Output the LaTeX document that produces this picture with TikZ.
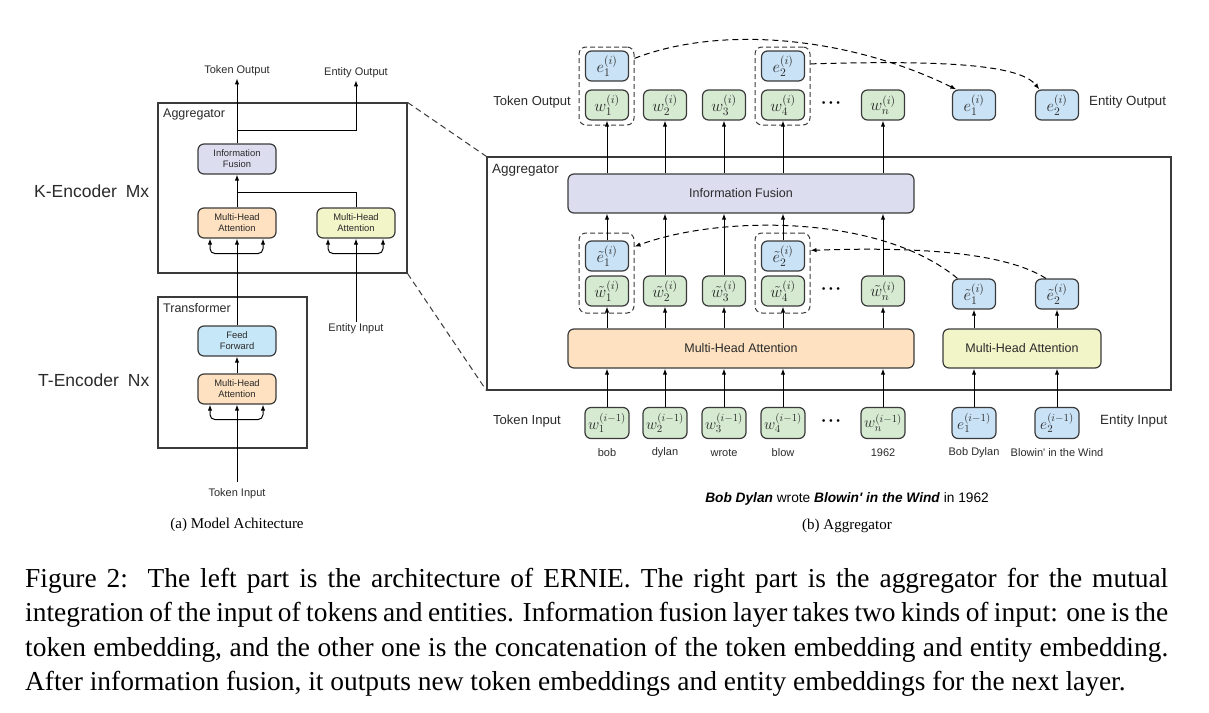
\RequirePackage{fix-cm}
\documentclass[tikz,border=0pt]{standalone}
\usepackage[no-math]{fontspec}
\setmainfont{Liberation Serif}
\newfontfamily\hv{Liberation Sans}
\usetikzlibrary{arrows.meta,calc}
\definecolor{cgreen}{HTML}{D5EAD0}
\definecolor{cblue}{HTML}{C9E2F5}
\definecolor{clav}{HTML}{DCDEF0}
\definecolor{corange}{HTML}{FDE1C0}
\definecolor{cyellow}{HTML}{F2F5C8}
\definecolor{cff}{HTML}{C6E7F7}
\definecolor{cline}{HTML}{3A3A3A}
\definecolor{ctext}{HTML}{2A2A2A}
\begin{document}
\begin{tikzpicture}[x=1pt,y=-1pt,
  box/.style={draw=cline, line width=1.2pt, rounded corners=6pt, inner sep=0pt, text=ctext, align=center},
  tok/.style={box, fill=cgreen, minimum width=43pt, minimum height=30pt, font=\fontsize{16.5}{19}\selectfont},
  ent/.style={box, fill=cblue, minimum width=43pt, minimum height=30pt, font=\fontsize{16.5}{19}\selectfont},
  boxL/.style={box, minimum width=78pt, minimum height=30pt, font=\hv\fontsize{9.4}{11}\selectfont},
  wide/.style={box, minimum height=39pt, font=\hv\fontsize{12.5}{15}\selectfont},
  grp/.style={draw=cline, line width=1pt, dash pattern=on 5pt off 3pt, rounded corners=7pt, minimum width=55pt, inner sep=0pt},
  frame/.style={draw=cline, line width=1.1pt, inner sep=0pt},
  arr/.style={-{Latex[length=6pt,width=4.4pt]}, line width=1pt, draw=black},
  arrb/.style={{Latex[length=6pt,width=4.4pt]}-{Latex[length=6pt,width=4.4pt]}, line width=1pt, draw=black, rounded corners=5pt},
  darr/.style={arr, dash pattern=on 6pt off 4pt},
  zdash/.style={draw=cline, line width=1pt, dash pattern=on 6pt off 4pt},
  lb/.style={inner sep=2pt, text=ctext, font=\hv\fontsize{#1}{#1}\selectfont},
  dotsnode/.style={inner sep=0pt, text=black, font=\fontsize{26}{27}\selectfont}
]
\useasboundingbox (0,0) rectangle (1209,712);

%%%%%%%%%%%% LEFT PART %%%%%%%%%%%%
\node[lb=11] (tokout) at (237,71) {Token Output};
\node[lb=11] (entout) at (356,73) {Entity Output};
\node[frame, minimum width=249pt, minimum height=170pt] (aggL) at (282.5,188) {};
\node[lb=12.5, anchor=west] (aggLl) at (161,114) {Aggregator};
\node[boxL, fill=clav] (ifL) at (237,159) {Information\\Fusion};
\node[boxL, fill=corange] (mhaL) at (237,223) {Multi-Head\\Attention};
\node[boxL, fill=cyellow] (mhaE) at (356,223) {Multi-Head\\Attention};
\node[frame, minimum width=149pt, minimum height=151pt] (trL) at (232.5,372.5) {};
\node[lb=12.5, anchor=west] (trLl) at (161,308) {Transformer};
\node[boxL, fill=cff] (ffL) at (237,341) {Feed\\Forward};
\node[boxL, fill=corange] (mhaT) at (237,389) {Multi-Head\\Attention};
\node[lb=11] (tokin) at (237,494) {Token Input};
\node[lb=11] (entin) at (356,329) {Entity Input};
\node[lb=17.5, anchor=west] (kenc) at (32,191) {K-Encoder\hspace{9pt}Mx};
\node[lb=17.5, anchor=west] (tenc) at (36,380) {T-Encoder\hspace{9pt}Nx};
\node[inner sep=0pt, font=\fontsize{15}{18}\selectfont] (capa) at (237,525) {(a) Model Achitecture};
\coordinate (jA) at (237,130);
\coordinate (jB) at (237,192);

\draw[arr] (ifL.north) -- (tokout.south);
\draw[arr] (jA) -| (entout.south);
\draw[arr] (mhaL.north) -- (ifL.south);
\draw[line width=1pt] (mhaE.north) |- (jB);
\draw[arr] (ffL.north) -- (mhaL.south);
\draw[arr] (entin.north) -- (mhaE.south);
\draw[arr] (mhaT.north) -- (ffL.south);
\draw[arr] ($(tokin.north)+(0,-5)$) -- (mhaT.south);
\draw[arrb] ($(mhaL.south)+(-27,0)$) -- ($(mhaL.south)+(-27,15)$) -- ($(mhaL.south)+(26,15)$) -- ($(mhaL.south)+(26,0)$);
\draw[arrb] ($(mhaE.south)+(-28,0)$) -- ($(mhaE.south)+(-28,15)$) -- ($(mhaE.south)+(27,15)$) -- ($(mhaE.south)+(27,0)$);
\draw[arrb] ($(mhaT.south)+(-27,0)$) -- ($(mhaT.south)+(-27,15)$) -- ($(mhaT.south)+(26,15)$) -- ($(mhaT.south)+(26,0)$);

%%%%%%%%%%%% RIGHT PART %%%%%%%%%%%%
\node[frame, minimum width=684pt, minimum height=233pt] (aggR) at (829,273.5) {};
\node[lb=13.5, anchor=west] (aggRl) at (490,170) {Aggregator};
\draw[zdash] (aggL.north east) -- (aggR.north west);
\draw[zdash] (aggL.south east) -- (aggR.south west);

% token output row
\node[tok] (wo1) at (607,105) {$w_1^{(i)}$};
\node[tok] (wo2) at (665,105) {$w_2^{(i)}$};
\node[tok] (wo3) at (724,105) {$w_3^{(i)}$};
\node[tok] (wo4) at (783,105) {$w_4^{(i)}$};
\node[tok] (won) at (883,105) {$w_n^{(i)}$};
\node[dotsnode] (d1) at (831,104) {$\mathord{\cdot}\mathord{\cdot}\mathord{\cdot}$};
\node[ent] (eo1) at (607,66) {$e_1^{(i)}$};
\node[ent] (eo4) at (783,66) {$e_2^{(i)}$};
\node[grp, minimum height=78pt] (g1) at (606.5,86) {};
\node[grp, minimum height=78pt] (g4) at (782.5,86) {};
\node[ent] (eE1) at (974,105) {$e_1^{(i)}$};
\node[ent] (eE2) at (1057,105) {$e_2^{(i)}$};
\node[lb=13, anchor=east] (tokoutR) at (573,102) {Token Output};
\node[lb=13.3, anchor=west] (entoutR) at (1087,102) {Entity Output};

% information fusion
\node[wide, fill=clav, minimum width=346pt] (ifR) at (741,193.5) {Information Fusion};

% middle row
\node[tok] (wt1) at (607,291) {$\tilde{w}_1^{(i)}$};
\node[tok] (wt2) at (665,291) {$\tilde{w}_2^{(i)}$};
\node[tok] (wt3) at (724,291) {$\tilde{w}_3^{(i)}$};
\node[tok] (wt4) at (783,291) {$\tilde{w}_4^{(i)}$};
\node[tok] (wtn) at (883,291) {$\tilde{w}_n^{(i)}$};
\node[dotsnode] (d2) at (831,290) {$\mathord{\cdot}\mathord{\cdot}\mathord{\cdot}$};
\node[ent] (et1) at (607,256) {$\tilde{e}_1^{(i)}$};
\node[ent] (et4) at (783,256) {$\tilde{e}_2^{(i)}$};
\node[grp, minimum height=80pt] (g1b) at (606.5,273) {};
\node[grp, minimum height=80pt] (g4b) at (782.5,273) {};
\node[ent] (eT1) at (974,294) {$\tilde{e}_1^{(i)}$};
\node[ent] (eT2) at (1057,294) {$\tilde{e}_2^{(i)}$};

% attention
\node[wide, fill=corange, minimum width=346pt] (mhaR) at (741,348.5) {Multi-Head Attention};
\node[wide, fill=cyellow, minimum width=158pt] (mhaY) at (1022,348.5) {Multi-Head Attention};

% input row
\node[tok, minimum width=44pt, minimum height=31pt, font=\fontsize{15.5}{18}\selectfont] (wi1) at (607,423) {$w_1^{(i-1)}$};
\node[tok, minimum width=44pt, minimum height=31pt, font=\fontsize{15.5}{18}\selectfont] (wi2) at (665,423) {$w_2^{(i-1)}$};
\node[tok, minimum width=44pt, minimum height=31pt, font=\fontsize{15.5}{18}\selectfont] (wi3) at (724,423) {$w_3^{(i-1)}$};
\node[tok, minimum width=44pt, minimum height=31pt, font=\fontsize{15.5}{18}\selectfont] (wi4) at (783,423) {$w_4^{(i-1)}$};
\node[tok, minimum width=44pt, minimum height=31pt, font=\fontsize{15.5}{18}\selectfont] (win) at (883,423) {$w_n^{(i-1)}$};
\node[dotsnode] (d3) at (831,422) {$\mathord{\cdot}\mathord{\cdot}\mathord{\cdot}$};
\node[ent, minimum width=44pt, minimum height=31pt, font=\fontsize{15.5}{18}\selectfont] (ei1) at (974,423) {$e_1^{(i-1)}$};
\node[ent, minimum width=44pt, minimum height=31pt, font=\fontsize{15.5}{18}\selectfont] (ei2) at (1057,423) {$e_2^{(i-1)}$};
\node[lb=13.1, anchor=east] (tokinR) at (563,421) {Token Input};
\node[lb=13.4, anchor=west] (entinR) at (1098,421) {Entity Input};

% words
\node[lb=11] (x1) at (607,453) {bob};
\node[lb=11] (x2) at (665,453) {dylan};
\node[lb=11] (x3) at (724,453) {wrote};
\node[lb=11] (x4) at (783,453) {blow};
\node[lb=11] (xn) at (883,453) {1962};
\node[lb=11] (xe1) at (974,453) {Bob Dylan};
\node[lb=11] (xe2) at (1057,453) {Blowin' in the Wind};
\node[lb=13.7, text=black] (sent) at (847,499) {\textbf{\textit{Bob Dylan}} wrote \textbf{\textit{Blowin' in the Wind}} in 1962};
\node[inner sep=0pt, font=\fontsize{15}{18}\selectfont] (capb) at (847,526) {(b) Aggregator};

% vertical arrows
\foreach \k in {1,2,3,4,n}{
  \draw[arr] (wi\k.north) -- (wi\k.north |- mhaR.south);
  \draw[arr] (wt\k.south |- mhaR.north) -- (wt\k.south);
  \draw[arr] (wo\k.south |- ifR.north) -- (wo\k.south);
}
\foreach \k in {2,3,n}{
  \draw[arr] (wt\k.north) -- (wt\k.north |- ifR.south);
}
\draw[arr] (et1.north) -- (et1.north |- ifR.south);
\draw[arr] (et4.north) -- (et4.north |- ifR.south);
\draw[arr] (ei1.north) -- (ei1.north |- mhaY.south);
\draw[arr] (ei2.north) -- (ei2.north |- mhaY.south);
\draw[arr] (eT1.south |- mhaY.north) -- (eT1.south);
\draw[arr] (eT2.south |- mhaY.north) -- (eT2.south);

% dashed curves
\draw[darr] ($(g1.north east)!0.15!(g1.south east)$) .. controls +(88,-34) and +(-106,-52) .. ($(eE1.north)!0.8!(eE1.north west)$);
\draw[darr] ($(g4.north east)!0.22!(g4.south east)$) .. controls +(140,-4) and +(-19,-24) .. ($(eE2.north)!0.8!(eE2.north west)$);
\draw[darr] ($(eT1.north)!0.75!(eT1.north west)$) .. controls +(-77,-64) and +(86,-32) .. ($(g1b.north east)!0.175!(g1b.south east)$);
\draw[darr] ($(eT2.north)!0.5!(eT2.north west)$) .. controls +(-46,-29) and +(90,-3) .. ($(g4b.north east)!0.22!(g4b.south east)$);

%%%%%%%%%%%% CAPTION %%%%%%%%%%%%
\begin{scope}[every node/.style={anchor=base west, inner sep=0pt, font=\fontsize{27.4}{34}\selectfont}]
\node (cap1) at (25,587) {\makebox[1143pt][s]{Figure 2:\hspace{0.15em} The left part is the architecture of ERNIE. The right part is the aggregator for the mutual}};
\node (cap2) at (25,621.5) {\makebox[1143pt][s]{integration of the input of tokens and entities. Information fusion layer takes two kinds of input: one is the}};
\node (cap3) at (25,656) {\makebox[1143pt][s]{token embedding, and the other one is the concatenation of the token embedding and entity embedding.}};
\node (cap4) at (25,690.5) {After information fusion, it outputs new token embeddings and entity embeddings for the next layer.};
\end{scope}
\end{tikzpicture}
\end{document}
